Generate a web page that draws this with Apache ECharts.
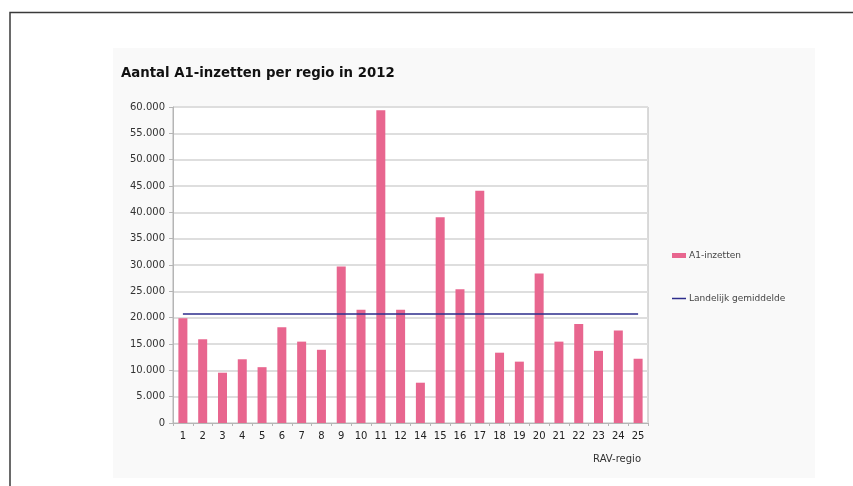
<!DOCTYPE html>
<html>
<head>
<meta charset="utf-8">
<script src="https://cdn.jsdelivr.net/npm/echarts@6/dist/echarts.min.js"></script>
<style>
  html, body { margin: 0; padding: 0; background: #fff; }
  #main { width: 853px; height: 486px; }
</style>
</head>
<body>
<div id="main"></div>
<script>
// RAV-regio's (13 ontbreekt in de bron)
var regios = ['1','2','3','4','5','6','7','8','9','10','11','12','14','15','16','17','18','19','20','21','22','23','24','25'];
var inzetten = [19900, 15900, 9550, 12100, 10600, 18200, 15450, 13900, 29700, 21500, 59400, 21500,
                7650, 39050, 25400, 44100, 13350, 11650, 28400, 15450, 18800, 13700, 17550, 12200];
var gemiddelde = 20700;
var gemiddeldeReeks = regios.map(function () { return gemiddelde; });

var chart = echarts.init(document.getElementById('main'), null, { renderer: 'canvas' });

var font = 'Verdana, "DejaVu Sans", sans-serif';

var option = {
  backgroundColor: '#ffffff',
  animation: false,
  graphic: [
    // lichte achtergrond van de grafiek
    { type: 'rect', shape: { x: 113, y: 48, width: 702, height: 430 }, style: { fill: '#f9f9f9' }, z: -10 },
    // kader van de pagina
    { type: 'polyline', shape: { points: [[10, 486], [10, 12.5], [853, 12.5]] }, style: { stroke: '#3a3a3a', lineWidth: 1.5, fill: null } },
    { type: 'rect', shape: { x: 173, y: 107, width: 475, height: 316 }, style: { fill: '#ffffff' }, z: -5 },
    {
      type: 'text', right: 212, top: 454,
      style: { text: 'RAV-regio', font: '10px ' + font, fill: '#333' }
    }
  ],
  title: {
    text: 'Aantal A1-inzetten per regio in 2012',
    left: 116, top: 62,
    textStyle: { fontFamily: font, fontSize: 13.3, fontWeight: 'bold', color: '#111' }
  },
  legend: {
    orient: 'vertical',
    left: 667, top: 246,
    itemGap: 34,
    itemWidth: 14, itemHeight: 5,
    textStyle: { fontFamily: font, fontSize: 9, color: '#444', padding: [0, 0, 0, -2] },
    data: [
      { name: 'A1-inzetten', icon: 'rect' },
      { name: 'Landelijk gemiddelde', icon: 'path://M0 0h28v3h-28z', itemStyle: { color: '#2d2d8c' } }
    ]
  },
  grid: { left: 173, top: 107, width: 475, height: 316, show: true, borderColor: '#b5b5b5', borderWidth: 1 },
  xAxis: {
    type: 'category',
    data: regios,
    axisLine: { lineStyle: { color: '#b5b5b5' } },
    axisTick: { show: true, alignWithLabel: false, lineStyle: { color: '#b5b5b5' }, length: 3 },
    axisLabel: { fontFamily: font, fontSize: 10, color: '#222', margin: 8, interval: 0 }
  },
  yAxis: {
    type: 'value',
    min: 0, max: 60000, interval: 5000,
    axisLine: { show: true, lineStyle: { color: '#b5b5b5' } },
    axisTick: { show: true, lineStyle: { color: '#b5b5b5' }, length: 4 },
    splitLine: { lineStyle: { color: '#dedede', width: 2 } },
    axisLabel: {
      fontFamily: font, fontSize: 10, color: '#333', margin: 8,
      formatter: function (v) { return v === 0 ? '0' : v.toLocaleString('nl-NL'); }
    }
  },
  series: [
    {
      name: 'A1-inzetten',
      type: 'bar',
      data: inzetten,
      barWidth: 9,
      itemStyle: { color: '#e8668f' }
    },
    {
      name: 'Landelijk gemiddelde',
      type: 'line',
      data: gemiddeldeReeks,
      symbol: 'none',
      lineStyle: { color: '#2d2d8c', width: 1.5 },
      itemStyle: { color: '#2d2d8c' }
    }
  ]
};

chart.setOption(option);
</script>
</body>
</html>
